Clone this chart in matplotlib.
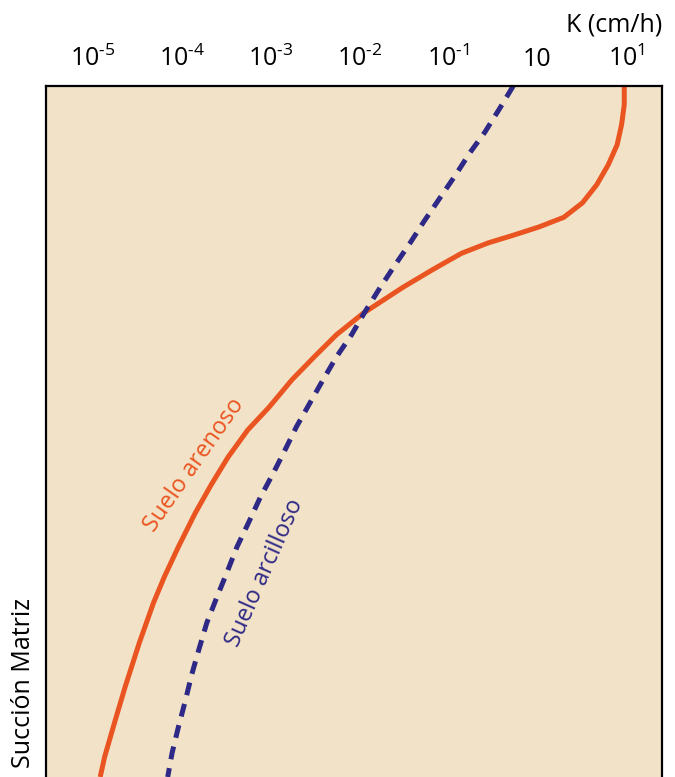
import matplotlib
matplotlib.use("Agg")
import matplotlib.pyplot as plt

# ========= DATA =========
# x = log10(K), y = succion (relativa, 0 arriba .. 100 abajo)
tick_pos = [-5, -4, -3, -2, -1, 0, 1]
tick_labels = ["10$^{\u20105}$", "10$^{\u20104}$", "10$^{\u20103}$", "10$^{\u20102}$",
               "10$^{\u20101}$", "10", "10$^{1}$"]

arenoso_x = [0.98, 0.98, 0.95, 0.90, 0.80, 0.67, 0.51, 0.30, 0.02, -0.27, -0.55,
             -0.85, -1.03, -1.18, -1.52, -1.96, -2.26, -2.51, -2.76, -3.02, -3.26,
             -3.48, -3.67, -3.85, -4.04, -4.20, -4.32, -4.48, -4.64, -4.76, -4.87, -4.92]
arenoso_y = [0.0, 2.7, 5.6, 8.5, 11.4, 14.3, 16.9, 19.0, 20.4, 21.6, 22.7,
             24.2, 25.5, 26.6, 29.2, 32.9, 36.0, 39.2, 42.5, 46.5, 49.8,
             53.7, 57.7, 61.8, 66.7, 71.1, 74.8, 80.6, 87.0, 92.2, 97.1, 100.0]

arcilloso_x = [-0.27, -0.42, -0.59, -0.76, -0.92, -1.09, -1.28, -1.43, -1.60, -1.77,
               -1.94, -2.09, -2.26, -2.41, -2.56, -2.71, -2.84, -2.97, -3.12, -3.25,
               -3.38, -3.49, -3.61, -3.72, -3.81, -3.89, -3.96, -4.04, -4.11, -4.16]
arcilloso_y = [0.0, 3.2, 6.7, 9.7, 12.9, 16.1, 19.7, 22.7, 25.9, 29.2,
               32.7, 36.0, 39.2, 42.5, 45.9, 49.3, 52.7, 56.0, 59.6, 63.2,
               66.7, 70.3, 74.1, 77.7, 81.6, 85.2, 88.9, 92.8, 96.5, 100.0]
# ========================

plt.rcParams["font.family"] = ["Open Sans", "DejaVu Sans"]
plt.rcParams["mathtext.fontset"] = "custom"
plt.rcParams["mathtext.rm"] = "Open Sans"
plt.rcParams["mathtext.it"] = "Open Sans"
plt.rcParams["mathtext.default"] = "regular"

fig = plt.figure(figsize=(6.75, 7.77), dpi=100)
ax = fig.add_axes([46 / 675, 0.0, (662 - 46) / 675, 1 - 86 / 777])
ax.set_facecolor("#F2E3C8")

ax.plot(arenoso_x, arenoso_y, color="#EA5420", lw=3.6,
        solid_joinstyle="round", solid_capstyle="butt")
ax.plot(arcilloso_x, arcilloso_y, color="#2E2886", lw=3.6,
        dashes=(2.6, 1.8), dash_capstyle="butt")

ax.set_xlim(-5.53, 1.405)
ax.set_ylim(100, 0)

ax.xaxis.tick_top()
ax.set_xticks(tick_pos)
ax.set_xticklabels(tick_labels, fontsize=18)
ax.tick_params(axis="x", length=0, pad=10)
ax.set_yticks([])

for side in ["top", "left", "right"]:
    ax.spines[side].set_linewidth(1.6)
ax.spines["bottom"].set_visible(False)

fig.text(662 / 675, 1 - 25 / 777, "K (cm/h)", ha="right", va="center", fontsize=18)
fig.text(24 / 675, 1 - 683 / 777, "Succión Matriz", rotation=90,
         ha="center", va="center", fontsize=18)

ax.text(-3.86, 54.9, "Suelo arenoso", color="#EA5420", fontsize=17,
        rotation=55, ha="center", va="center", rotation_mode="anchor")
ax.text(-3.07, 70.5, "Suelo arcilloso", color="#2E2886", fontsize=17,
        rotation=66, ha="center", va="center", rotation_mode="anchor")

fig.savefig("out.png", dpi=100)
